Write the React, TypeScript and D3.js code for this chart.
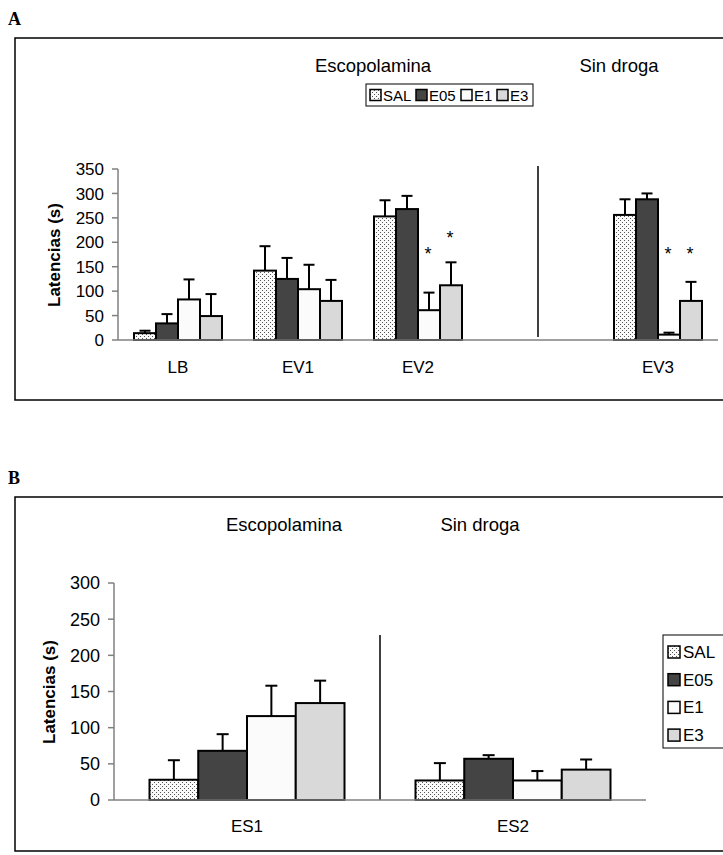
import React from "react";
import * as d3 from "d3";

const seriesNames = ["SAL", "E05", "E1", "E3"];
const fills: Record<string, string> = { SAL: "url(#dots)", E05: "#444444", E1: "#fbfbfb", E3: "#d9d9d9" };

// Panel A
const catsA = ["LB", "EV1", "EV2", "gap", "EV3"];
const labelsA = ["LB", "EV1", "EV2", "", "EV3"];
const realCatsA = ["LB", "EV1", "EV2", "EV3"];
const salA = [14, 142, 253, 256];
const e05A = [34, 125, 268, 288];
const e1A = [83, 104, 61, 11];
const e3A = [49, 80, 112, 80];
const salErrA = [5, 50, 33, 32];
const e05ErrA = [19, 43, 27, 12];
const e1ErrA = [41, 50, 36, 4];
const e3ErrA = [45, 43, 47, 39];
const ticksA = [0, 50, 100, 150, 200, 250, 300, 350];
const starsA = [
  { cat: "EV2", s: "E1", v: 184 },
  { cat: "EV2", s: "E3", v: 217 },
  { cat: "EV3", s: "E1", v: 184 },
  { cat: "EV3", s: "E3", v: 184 },
];

// Panel B
const catsB = ["ES1", "ES2"];
const salB = [28, 27];
const e05B = [68, 57];
const e1B = [116, 27];
const e3B = [134, 42];
const salErrB = [27, 24];
const e05ErrB = [23, 5];
const e1ErrB = [42, 13];
const e3ErrB = [31, 14];
const ticksB = [0, 50, 100, 150, 200, 250, 300];

const FONT = "'Liberation Sans', Arial, sans-serif";

type Bar = { cat: string; s: string; v: number; e: number };

function buildBars(cats: string[], vals: number[][], errs: number[][]): Bar[] {
  const out: Bar[] = [];
  cats.forEach((c, i) => {
    seriesNames.forEach((s, j) => {
      out.push({ cat: c, s, v: vals[j][i], e: errs[j][i] });
    });
  });
  return out;
}

export default function App() {
  // ---------- Panel A scales
  const x0A = d3.scaleBand().domain(catsA).range([118, 718]).padding(0);
  const x1A = d3.scaleBand().domain(seriesNames).range([16, 104]).padding(0);
  const yA = d3.scaleLinear().domain([0, 350]).range([340, 169]);
  const barsA = buildBars(realCatsA, [salA, e05A, e1A, e3A], [salErrA, e05ErrA, e1ErrA, e3ErrA]);

  // ---------- Panel B scales
  const x0B = d3.scaleBand().domain(catsB).range([114, 646]).padding(0);
  const x1B = d3.scaleBand().domain(seriesNames).range([35.5, 230.5]).padding(0);
  const yB = d3.scaleLinear().domain([0, 300]).range([800, 583]);
  const barsB = buildBars(catsB, [salB, e05B, e1B, e3B], [salErrB, e05ErrB, e1ErrB, e3ErrB]);

  const renderBars = (
    bars: Bar[],
    x0: d3.ScaleBand<string>,
    x1: d3.ScaleBand<string>,
    y: d3.ScaleLinear<number, number>,
    cap: number
  ) =>
    bars.map((b, i) => {
      const x = (x0(b.cat) as number) + (x1(b.s) as number);
      const w = x1.bandwidth();
      const cx = x + w / 2;
      return (
        <g key={i}>
          <line x1={cx} x2={cx} y1={y(b.v)} y2={y(b.v + b.e)} stroke="#000" strokeWidth={2} />
          <line x1={cx - cap / 2} x2={cx + cap / 2} y1={y(b.v + b.e)} y2={y(b.v + b.e)} stroke="#000" strokeWidth={2} />
          <rect x={x} y={y(b.v)} width={w} height={y(0) - y(b.v)} fill={fills[b.s]} stroke="#000" strokeWidth={2} />
        </g>
      );
    });

  const legendA = [
    { s: "SAL", x: 370 },
    { s: "E05", x: 416 },
    { s: "E1", x: 461 },
    { s: "E3", x: 497 },
  ];

  return (
    <svg width={723} height={855} style={{ position: "absolute", left: 0, top: 0, background: "#fff" }} fontFamily={FONT}>
      <defs>
        <pattern id="dots" width={4} height={4} patternUnits="userSpaceOnUse">
          <rect width={4} height={4} fill="#fafafa" />
          <rect x={0} y={0} width={1} height={1} fill="#555" />
          <rect x={2} y={2} width={1} height={1} fill="#555" />
        </pattern>
      </defs>

      {/* ================= Panel A ================= */}
      <text x={8} y={25} fontFamily="'Liberation Serif', 'Times New Roman', serif" fontWeight="bold" fontSize={18}>A</text>
      <rect x={15} y={38} width={740} height={362} fill="none" stroke="#000" strokeWidth={1.5} />
      <text x={373} y={72} fontSize={18.5} textAnchor="middle">Escopolamina</text>
      <text x={619} y={72} fontSize={18.5} textAnchor="middle">Sin droga</text>

      {/* legend A */}
      <rect x={366} y={84} width={167} height={22} fill="#fff" stroke="#000" strokeWidth={1} />
      {legendA.map((l) => (
        <g key={l.s}>
          <rect x={l.x} y={89.5} width={11} height={11} fill={fills[l.s]} stroke="#000" strokeWidth={1.5} />
          <text x={l.x + 13} y={100.5} fontSize={15}>{l.s}</text>
        </g>
      ))}

      {/* y axis A */}
      <line x1={118} x2={118} y1={yA(350)} y2={yA(0)} stroke="#808080" strokeWidth={1.5} />
      {ticksA.map((t) => (
        <g key={t}>
          <line x1={112} x2={118} y1={yA(t)} y2={yA(t)} stroke="#808080" strokeWidth={1.5} />
          <text x={104} y={yA(t)} dy="0.36em" fontSize={17} textAnchor="end">{t}</text>
        </g>
      ))}
      <text transform={`translate(60,255) rotate(-90)`} fontSize={17} fontWeight="bold" textAnchor="middle">Latencias (s)</text>

      {/* separator A */}
      <line x1={(x0A("gap") as number) + x0A.bandwidth() / 2} x2={(x0A("gap") as number) + x0A.bandwidth() / 2} y1={166} y2={337} stroke="#000" strokeWidth={1.5} />

      {renderBars(barsA, x0A, x1A, yA, 11)}
      <line x1={118} x2={718} y1={yA(0)} y2={yA(0)} stroke="#808080" strokeWidth={1.5} />

      {catsA.map((c, i) => (
        <text key={c} x={(x0A(c) as number) + x0A.bandwidth() / 2} y={373} fontSize={17} textAnchor="middle">{labelsA[i]}</text>
      ))}
      {starsA.map((st, i) => (
        <text key={i} x={(x0A(st.cat) as number) + (x1A(st.s) as number) + x1A.bandwidth() / 2 - 1} y={yA(st.v) + 10} fontSize={18} textAnchor="middle">*</text>
      ))}

      {/* ================= Panel B ================= */}
      <text x={8} y={484} fontFamily="'Liberation Serif', 'Times New Roman', serif" fontWeight="bold" fontSize={18}>B</text>
      <rect x={15} y={497} width={740} height={354} fill="none" stroke="#000" strokeWidth={1.5} />
      <text x={284} y={531} fontSize={18.5} textAnchor="middle">Escopolamina</text>
      <text x={480} y={531} fontSize={18.5} textAnchor="middle">Sin droga</text>

      <line x1={114} x2={114} y1={yB(300)} y2={yB(0)} stroke="#808080" strokeWidth={1.5} />
      {ticksB.map((t) => (
        <g key={t}>
          <line x1={108} x2={114} y1={yB(t)} y2={yB(t)} stroke="#808080" strokeWidth={1.5} />
          <text x={100} y={yB(t)} dy="0.36em" fontSize={18} textAnchor="end">{t}</text>
        </g>
      ))}
      <text transform={`translate(55,692) rotate(-90)`} fontSize={17} fontWeight="bold" textAnchor="middle">Latencias (s)</text>

      <line x1={(x0B("ES2") as number)} x2={(x0B("ES2") as number)} y1={635} y2={800} stroke="#000" strokeWidth={1.5} />

      {renderBars(barsB, x0B, x1B, yB, 12)}
      <line x1={114} x2={646} y1={yB(0)} y2={yB(0)} stroke="#808080" strokeWidth={1.5} />
      {catsB.map((c) => (
        <text key={c} x={(x0B(c) as number) + x0B.bandwidth() / 2} y={832} fontSize={17} textAnchor="middle">{c}</text>
      ))}

      {/* legend B */}
      <rect x={663} y={635} width={80} height={113} fill="#fff" stroke="#000" strokeWidth={1} />
      {seriesNames.map((s, i) => (
        <g key={s}>
          <rect x={668} y={646 + i * 27.7} width={12} height={12} fill={fills[s]} stroke="#000" strokeWidth={1.5} />
          <text x={683} y={658 + i * 27.7} fontSize={17}>{s}</text>
        </g>
      ))}
    </svg>
  );
}
